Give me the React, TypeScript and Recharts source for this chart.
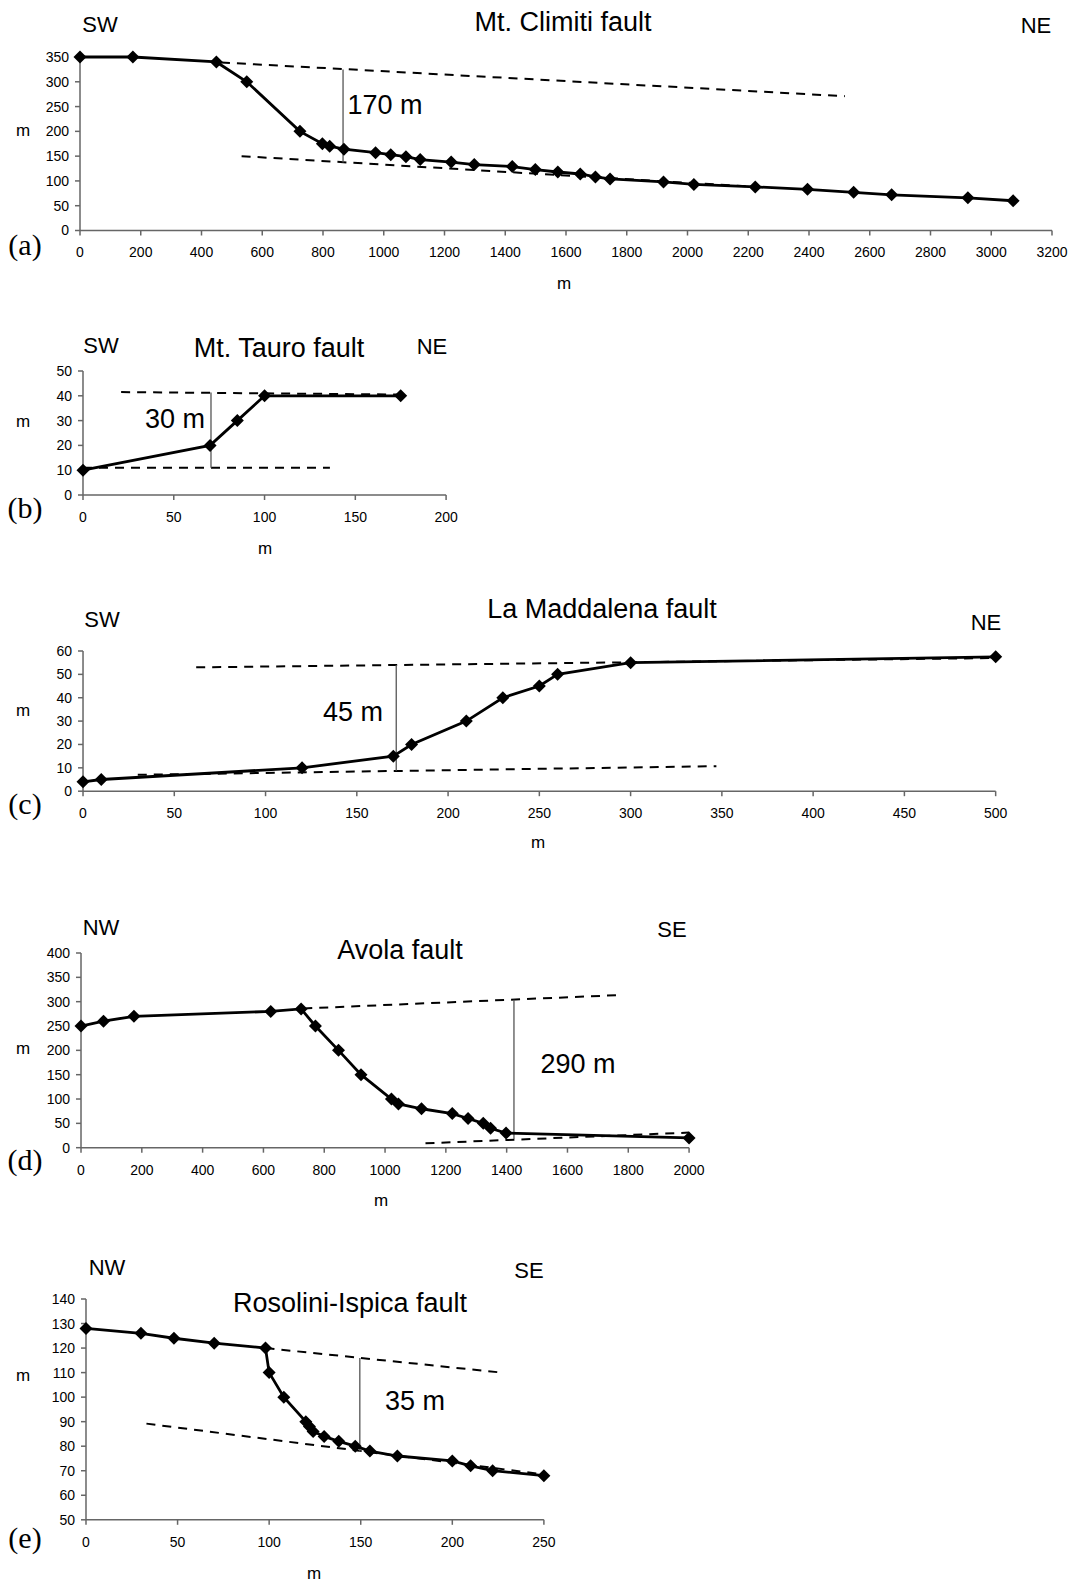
import React from 'react'
import { LineChart, Line, XAxis, YAxis, ReferenceLine } from 'recharts'

// (a) Mt. Climiti fault
const climitiX = [0, 174, 449, 549, 724, 798, 822, 869, 973, 1023, 1073, 1120, 1222, 1298, 1423, 1499, 1573, 1647, 1697, 1745, 1921, 2021, 2223, 2395, 2547, 2672, 2923, 3072]
const climitiY = [350, 350, 340, 300, 200, 175, 170, 164, 157, 153, 149, 143, 138, 133, 129, 123, 118, 114, 108, 104, 98, 93, 88, 83, 77, 72, 66, 60]
const climitiXTicks = [0, 200, 400, 600, 800, 1000, 1200, 1400, 1600, 1800, 2000, 2200, 2400, 2600, 2800, 3000, 3200]
const climitiYTicks = [0, 50, 100, 150, 200, 250, 300, 350]
const climitiGuides = [[464, 339, 2518, 271], [532, 150, 2200, 89]]
const climitiOffset = [866, 325, 866, 137]

// (b) Mt. Tauro fault
const tauroX = [0, 70, 85, 100, 175]
const tauroY = [10, 20, 30, 40, 40]
const tauroXTicks = [0, 50, 100, 150, 200]
const tauroYTicks = [0, 10, 20, 30, 40, 50]
const tauroGuides = [[21, 41.5, 175, 40.5], [0, 11, 136, 11]]
const tauroOffset = [70.5, 41.3, 70.5, 11]

// (c) La Maddalena fault
const maddalenaX = [0, 10, 120, 170, 180, 210, 230, 250, 260, 300, 500]
const maddalenaY = [4, 5, 10, 15, 20, 30, 40, 45, 50, 55, 57.5]
const maddalenaXTicks = [0, 50, 100, 150, 200, 250, 300, 350, 400, 450, 500]
const maddalenaYTicks = [0, 10, 20, 30, 40, 50, 60]
const maddalenaGuides = [[62, 53, 500, 57], [30, 7, 347, 10.7]]
const maddalenaOffset = [171.6, 54, 171.6, 8.7]

// (d) Avola fault
const avolaX = [0, 74, 174, 624, 724, 771, 847, 921, 1021, 1044, 1120, 1221, 1273, 1323, 1347, 1398, 2000]
const avolaY = [250, 260, 270, 280, 285, 250, 200, 150, 100, 90, 80, 70, 60, 50, 40, 30, 20]
const avolaXTicks = [0, 200, 400, 600, 800, 1000, 1200, 1400, 1600, 1800, 2000]
const avolaYTicks = [0, 50, 100, 150, 200, 250, 300, 350, 400]
const avolaGuides = [[731, 286, 1770, 313.5], [1133, 9, 2000, 31]]
const avolaOffset = [1424, 304, 1424, 18]

// (e) Rosolini-Ispica fault
const rosoliniX = [0, 30, 48, 70, 98, 100, 108, 120, 122, 124, 130, 138, 147, 155, 170, 200, 210, 222, 250]
const rosoliniY = [128, 126, 124, 122, 120, 110, 100, 90, 88, 86, 84, 82, 80, 78, 76, 74, 72, 70, 68]
const rosoliniXTicks = [0, 50, 100, 150, 200, 250]
const rosoliniYTicks = [50, 60, 70, 80, 90, 100, 110, 120, 130, 140]
const rosoliniGuides = [[98, 120, 227, 110], [33, 89.2, 250, 68.5]]
const rosoliniOffset = [149.5, 116, 149.5, 77.7]

const SANS = '"Liberation Sans", Arial, sans-serif'
const SERIF = '"Liberation Serif", "Times New Roman", serif'

const YW = 60
const MT = 12
const MR = 24
const XH = 44

const zip = (xs: number[], ys: number[]) => xs.map((x, i) => ({ x, y: ys[i] }))

const Diamond = (p: any) => {
  const { cx, cy, index } = p
  if (cx == null || cy == null) return null
  return (
    <path
      key={`dm-${index}`}
      d={`M${cx},${cy - 6.5}L${cx + 6.5},${cy}L${cx},${cy + 6.5}L${cx - 6.5},${cy}Z`}
      fill="#000"
    />
  )
}

interface PanelProps {
  box: { left: number; right: number; top: number; bottom: number }
  xs: number[]
  ys: number[]
  xTicks: number[]
  yTicks: number[]
  guides: number[][]
  offset: number[]
}

function Panel({ box, xs, ys, xTicks, yTicks, guides, offset }: PanelProps) {
  const width = box.right - box.left + YW + MR
  const height = box.bottom - box.top + MT + XH
  const tick = { fill: '#000', fontSize: 14, fontFamily: SANS }
  return (
    <div style={{ position: 'absolute', left: box.left - YW, top: box.top - MT }}>
      <LineChart width={width} height={height} data={zip(xs, ys)} margin={{ top: MT, right: MR, bottom: 0, left: 0 }}>
        <XAxis
          type="number"
          dataKey="x"
          domain={[xTicks[0], xTicks[xTicks.length - 1]]}
          ticks={xTicks}
          interval={0}
          height={XH}
          tick={tick}
          tickSize={5}
          tickMargin={12}
          stroke="#666"
          strokeWidth={1.5}
        />
        <YAxis
          type="number"
          dataKey="y"
          domain={[yTicks[0], yTicks[yTicks.length - 1]]}
          ticks={yTicks}
          interval={0}
          width={YW}
          tick={tick}
          tickSize={5}
          tickMargin={6}
          stroke="#666"
          strokeWidth={1.5}
        />
        {guides.map((g, i) => (
          <ReferenceLine
            key={`g-${i}`}
            segment={[{ x: g[0], y: g[1] }, { x: g[2], y: g[3] }]}
            stroke="#000"
            strokeWidth={2}
            strokeDasharray="9 7"
            ifOverflow="visible"
          />
        ))}
        <ReferenceLine
          segment={[{ x: offset[0], y: offset[1] }, { x: offset[2], y: offset[3] }]}
          stroke="#555"
          strokeWidth={1.3}
          ifOverflow="visible"
        />
        <Line
          type="linear"
          dataKey="y"
          stroke="#000"
          strokeWidth={2.8}
          dot={Diamond}
          activeDot={false}
          isAnimationActive={false}
        />
      </LineChart>
    </div>
  )
}

const T = ({ x, y, size, children, serif }: { x: number; y: number; size: number; children: React.ReactNode; serif?: boolean }) => (
  <div
    style={{
      position: 'absolute',
      left: x,
      top: y,
      transform: 'translate(-50%, -50%)',
      fontSize: size,
      fontFamily: serif ? SERIF : SANS,
      whiteSpace: 'nowrap',
      lineHeight: 1,
      color: '#000',
    }}
  >
    {children}
  </div>
)

export default function App() {
  return (
    <div style={{ position: 'absolute', left: 0, top: 0, width: 1074, height: 1581, background: '#fff', overflow: 'hidden' }}>
      <Panel box={{ left: 80, right: 1052, top: 56.5, bottom: 230 }} xs={climitiX} ys={climitiY} xTicks={climitiXTicks} yTicks={climitiYTicks} guides={climitiGuides} offset={climitiOffset} />
      <T x={100} y={25} size={22}>SW</T>
      <T x={563} y={22} size={27}>Mt. Climiti fault</T>
      <T x={1036} y={26} size={22}>NE</T>
      <T x={385} y={105} size={27}>170 m</T>
      <T x={23} y={130} size={17}>m</T>
      <T x={564} y={283} size={17}>m</T>
      <T x={25} y={245} size={30} serif>(a)</T>

      <Panel box={{ left: 82.7, right: 445.8, top: 371, bottom: 495 }} xs={tauroX} ys={tauroY} xTicks={tauroXTicks} yTicks={tauroYTicks} guides={tauroGuides} offset={tauroOffset} />
      <T x={101} y={346} size={22}>SW</T>
      <T x={279} y={348} size={27}>Mt. Tauro fault</T>
      <T x={432} y={347} size={22}>NE</T>
      <T x={175} y={419} size={27}>30 m</T>
      <T x={23} y={421} size={17}>m</T>
      <T x={265} y={548} size={17}>m</T>
      <T x={25} y={508} size={30} serif>(b)</T>

      <Panel box={{ left: 82.7, right: 995.4, top: 650.5, bottom: 790.7 }} xs={maddalenaX} ys={maddalenaY} xTicks={maddalenaXTicks} yTicks={maddalenaYTicks} guides={maddalenaGuides} offset={maddalenaOffset} />
      <T x={102} y={620} size={22}>SW</T>
      <T x={602} y={609} size={27}>La Maddalena fault</T>
      <T x={986} y={623} size={22}>NE</T>
      <T x={353} y={712} size={27}>45 m</T>
      <T x={23} y={710} size={17}>m</T>
      <T x={538} y={842} size={17}>m</T>
      <T x={25} y={804} size={30} serif>(c)</T>

      <Panel box={{ left: 80.7, right: 688.8, top: 953, bottom: 1147.7 }} xs={avolaX} ys={avolaY} xTicks={avolaXTicks} yTicks={avolaYTicks} guides={avolaGuides} offset={avolaOffset} />
      <T x={101} y={928} size={22}>NW</T>
      <T x={400} y={950} size={27}>Avola fault</T>
      <T x={672} y={930} size={22}>SE</T>
      <T x={578} y={1064} size={27}>290 m</T>
      <T x={23} y={1048} size={17}>m</T>
      <T x={381} y={1200} size={17}>m</T>
      <T x={25} y={1160} size={30} serif>(d)</T>

      <Panel box={{ left: 85.7, right: 543.6, top: 1299, bottom: 1519.8 }} xs={rosoliniX} ys={rosoliniY} xTicks={rosoliniXTicks} yTicks={rosoliniYTicks} guides={rosoliniGuides} offset={rosoliniOffset} />
      <T x={107} y={1268} size={22}>NW</T>
      <T x={350} y={1303} size={27}>Rosolini-Ispica fault</T>
      <T x={529} y={1271} size={22}>SE</T>
      <T x={415} y={1401} size={27}>35 m</T>
      <T x={23} y={1375} size={17}>m</T>
      <T x={314} y={1573} size={17}>m</T>
      <T x={25} y={1538} size={30} serif>(e)</T>
    </div>
  )
}
